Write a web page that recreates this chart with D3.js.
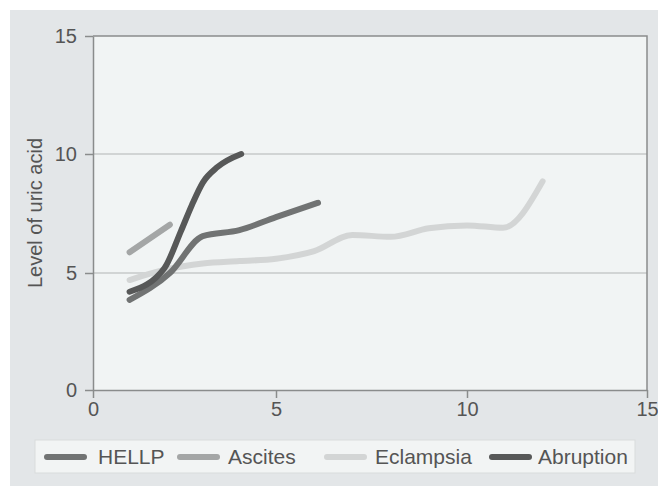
<!DOCTYPE html>
<html lang="en">
<head>
    <meta charset="UTF-8">
    <title>Level of uric acid</title>
    <script src="https://d3js.org/d3.v7.min.js"></script>
    <style>
        body { margin: 0; background: #fff; }
        text { font-family: "Liberation Sans", Arial, sans-serif; fill: #555; }
        .axis path, .axis line { stroke: #8a8c8c; stroke-width: 1.5; }
        .axis text { font-size: 20px; fill: #555; }
    </style>
</head>
<body>
    <svg width="658" height="487"></svg>
    <script>
        // Data
        const xTicks = [0, 5, 10, 15];
        const yTicks = [0, 5, 10, 15];
        const seriesNames = ["HELLP", "Ascites", "Eclampsia", "Abruption"];
        const hellpX = [1, 2.1, 3, 4, 5, 6.1];
        const hellpY = [3.85, 5.0, 6.55, 6.8, 7.35, 7.95];
        const ascitesX = [1, 2.1];
        const ascitesY = [5.87, 7.03];
        const eclampsiaX = [1, 2, 3, 4, 5, 6, 7, 8, 9, 10, 11, 12.1];
        const eclampsiaY = [4.7, 5.15, 5.4, 5.5, 5.6, 5.92, 6.6, 6.52, 6.88, 7.0, 6.9, 8.85];
        const abruptionX = [1, 1.95, 2.4, 2.7, 3, 3.4, 4.05];
        const abruptionY = [4.2, 5.2, 6.75, 7.85, 8.8, 9.45, 10.0];

        const colors = {HELLP: "#717373", Ascites: "#a4a6a6", Eclampsia: "#d3d5d5", Abruption: "#575858"};

        const series = [
            {name: "HELLP", pts: hellpX.map((x, i) => [x, hellpY[i]])},
            {name: "Ascites", pts: ascitesX.map((x, i) => [x, ascitesY[i]])},
            {name: "Eclampsia", pts: eclampsiaX.map((x, i) => [x, eclampsiaY[i]])},
            {name: "Abruption", pts: abruptionX.map((x, i) => [x, abruptionY[i]])}
        ];

        const svg = d3.select("svg");

        // outer panel
        svg.append("rect").attr("x", 10).attr("y", 10).attr("width", 648).attr("height", 476)
            .attr("fill", "#e3e6e8");

        // the scan's axis spacing is slightly uneven, follow its ticks
        const x = d3.scaleLinear().domain(xTicks).range([93, 276, 467, 647]);
        const y = d3.scaleLinear().domain(yTicks).range([390, 273, 154, 36]);

        // plot area
        svg.append("rect")
            .attr("x", x(0)).attr("y", y(15))
            .attr("width", x(15) - x(0)).attr("height", y(0) - y(15))
            .attr("fill", "#f1f4f4");

        // gridlines
        svg.append("g").selectAll("line")
            .data(yTicks.filter(d => d > 0 && d < 15))
            .join("line")
            .attr("x1", x(0)).attr("x2", x(15))
            .attr("y1", d => y(d)).attr("y2", d => y(d))
            .attr("stroke", "#c6caca").attr("stroke-width", 1.5);

        // top and right frame
        svg.append("path")
            .attr("d", `M${x(0)},${y(15)}H${x(15)}V${y(0)}`)
            .attr("fill", "none").attr("stroke", "#8a8c8c").attr("stroke-width", 1.5);

        // axes
        svg.append("g").attr("class", "axis")
            .attr("transform", `translate(0,${y(0)})`)
            .call(d3.axisBottom(x).tickValues(xTicks).tickSize(8).tickPadding(4).tickSizeOuter(0));
        svg.append("g").attr("class", "axis")
            .attr("transform", `translate(${x(0)},0)`)
            .call(d3.axisLeft(y).tickValues(yTicks).tickSize(8).tickPadding(8).tickSizeOuter(0));

        svg.append("text")
            .attr("transform", `translate(42,${(y(0) + y(15)) / 2}) rotate(-90)`)
            .attr("text-anchor", "middle")
            .style("font-size", "20px")
            .text("Level of uric acid");

        // lines
        const line = d3.line()
            .x(d => x(d[0]))
            .y(d => y(d[1]))
            .curve(d3.curveMonotoneX);

        const drawOrder = ["Eclampsia", "Ascites", "HELLP", "Abruption"];
        svg.append("g").selectAll("path")
            .data(drawOrder.map(n => series.find(s => s.name === n)))
            .join("path")
            .attr("d", d => line(d.pts))
            .attr("fill", "none")
            .attr("stroke", d => colors[d.name])
            .attr("stroke-width", 6)
            .attr("stroke-linecap", "round")
            .attr("stroke-linejoin", "round");

        // legend
        const legend = svg.append("g");
        legend.append("rect")
            .attr("x", 35).attr("y", 440).attr("width", 600).attr("height", 33)
            .attr("fill", "#f2f4f4").attr("stroke", "#d9dcdc");
        const itemX = [45, 178, 325, 490];
        const textX = [53, 50, 50, 48];
        const items = legend.selectAll("g.item")
            .data(seriesNames)
            .join("g")
            .attr("class", "item")
            .attr("transform", (d, i) => `translate(${itemX[i]},457)`);
        items.append("line")
            .attr("x1", 2).attr("x2", 39)
            .attr("stroke", d => colors[d])
            .attr("stroke-width", 6)
            .attr("stroke-linecap", "round");
        items.append("text")
            .attr("x", (d, i) => textX[i]).attr("y", 7)
            .style("font-size", "21px")
            .text(d => d);
    </script>
</body>
</html>
